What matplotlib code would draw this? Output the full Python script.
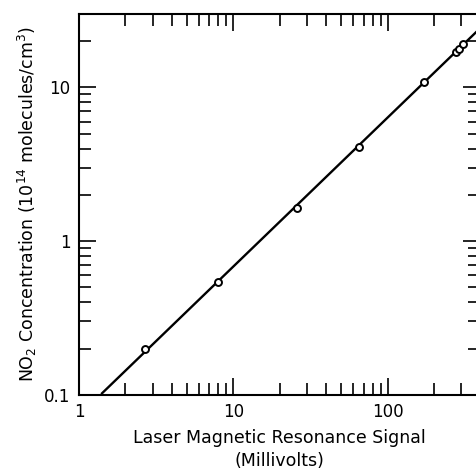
import numpy as np
import matplotlib
matplotlib.use("Agg")
import matplotlib.pyplot as plt
from matplotlib.ticker import LogLocator, NullFormatter, FixedLocator, FixedFormatter

# Data
signal_mv = [2.68, 8.0, 26.0, 65.0, 171.0, 276.0, 289.0, 307.0]
no2_conc = [0.20, 0.54, 1.64, 4.07, 10.9, 17.1, 17.9, 19.3]
fit_range = [1.41, 420.0]

x_major = [1, 10, 100]
x_major_labels = ["1", "10", "100"]
y_major = [0.1, 1, 10]
y_major_labels = ["0.1", "1", "10"]

plt.rcParams['font.family'] = ['DejaVu Sans']

fig = plt.figure(figsize=(4.76, 4.70), dpi=100)
# right edge of the axes sits just past the picture edge, as in the scan
ax = fig.add_axes([0.166, 0.160, 0.842, 0.810])

# straight line fit in log space
coef = np.polyfit(np.log10(signal_mv), np.log10(no2_conc), 1)
fx = np.array(fit_range)
fy = 10 ** np.polyval(coef, np.log10(fx))
ax.plot(fx, fy, color="black", lw=1.7, zorder=2)
ax.plot(signal_mv, no2_conc, "o", ms=5, mfc="white", mec="black", mew=1.4, zorder=3)

ax.set_xscale("log")
ax.set_yscale("log")
ax.set_xlim(1, 396)
ax.set_ylim(0.1, 30)

ax.xaxis.set_major_locator(FixedLocator(x_major))
ax.xaxis.set_major_formatter(FixedFormatter(x_major_labels))
ax.yaxis.set_major_locator(FixedLocator(y_major))
ax.yaxis.set_major_formatter(FixedFormatter(y_major_labels))
ax.xaxis.set_minor_locator(LogLocator(base=10, subs=np.arange(2, 10)))
ax.yaxis.set_minor_locator(LogLocator(base=10, subs=np.arange(2, 10)))
ax.xaxis.set_minor_formatter(NullFormatter())
ax.yaxis.set_minor_formatter(NullFormatter())

ax.tick_params(which="both", direction="in", top=True, right=True, width=1.2,
               labelsize=12, colors="black")
ax.tick_params(which="major", length=12, pad=6)
ax.tick_params(which="minor", length=8.5)
for s in ax.spines.values():
    s.set_linewidth(1.5)

ax.set_xlabel("Laser Magnetic Resonance Signal\n(Millivolts)", fontsize=12.5,
              linespacing=1.3, labelpad=6)
ax.set_ylabel("NO$_2$ Concentration (10$^{14}$ molecules/cm$^3$)", fontsize=12.5,
              labelpad=4)

fig.savefig("out.png", dpi=100)
